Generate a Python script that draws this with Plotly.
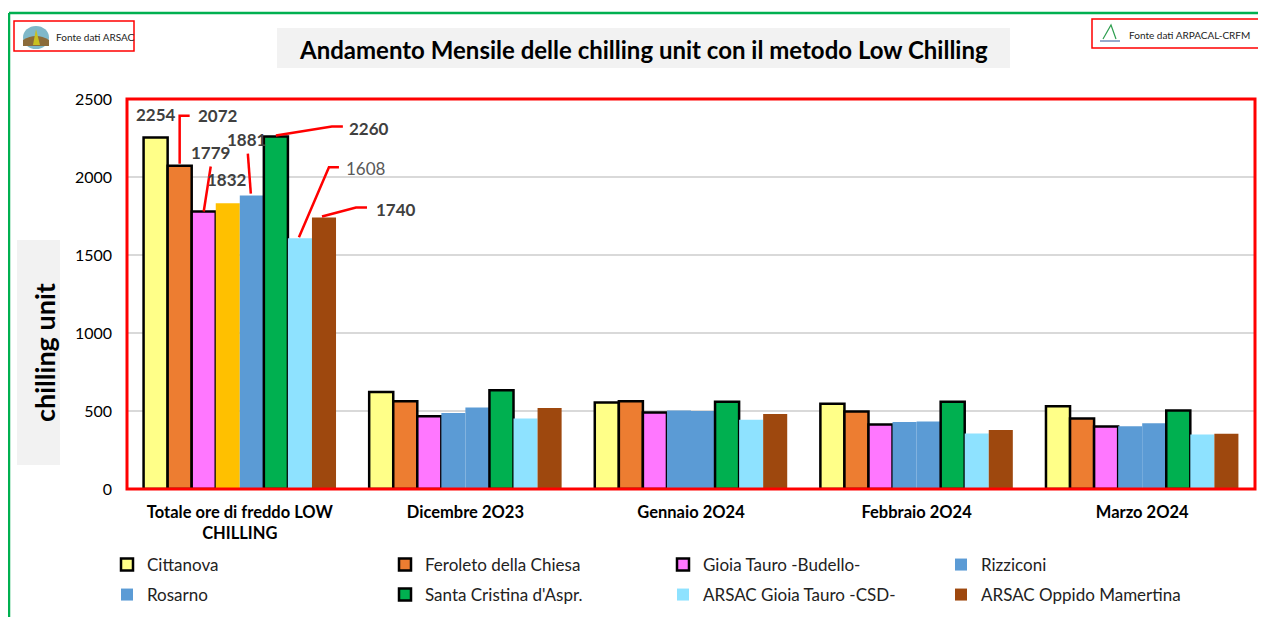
import plotly.graph_objects as go

# ---------------- data ----------------
categories = ["Totale ore di freddo LOW<br>CHILLING", "Dicembre 2O23", "Gennaio 2O24",
              "Febbraio 2O24", "Marzo 2O24"]
series_names = ["Cittanova", "Feroleto della Chiesa", "Gioia Tauro -Budello-", "Rizziconi",
                "Rosarno", "Santa Cristina d'Aspr.", "ARSAC Gioia Tauro -CSD-",
                "ARSAC Oppido Mamertina"]
cittanova = [2254, 622, 554, 547, 530]
feroleto = [2072, 562, 562, 496, 452]
gioia_budello = [1779, 467, 491, 414, 401]
rizziconi = [1832, 487, 504, 429, 403]
rosarno = [1881, 522, 500, 433, 422]
santa_cristina = [2260, 633, 560, 560, 504]
arsac_gioia = [1608, 452, 444, 356, 349]
arsac_oppido = [1740, 519, 480, 379, 354]
series_values = [cittanova, feroleto, gioia_budello, rizziconi, rosarno,
                 santa_cristina, arsac_gioia, arsac_oppido]
y_ticks = [0, 500, 1000, 1500, 2000, 2500]

# ---------------- style ----------------
colors = ["#FFFF88", "#ED7D31", "#FF77FF", "#5B9BD5", "#5B9BD5", "#00B050", "#8EE2FF", "#9E480E"]
outlined = [True, True, True, False, False, True, False, False]
FONT = "Lato"
OFF = 8                      # page body margin
W, H = 1266 - OFF, 617 - OFF
L, R, T, B = 127 - OFF, 11, 99 - OFF, 128
PW, PH = W - L - R, H - T - B
BARGAP = 0.147


def px_x(px):
    return (px - OFF - L) / PW


def px_y(py):
    return (H - B - (py - OFF)) / PH


fig = go.Figure()
for i, (name, vals) in enumerate(zip(series_names, series_values)):
    mc = [colors[i]] * len(vals)
    special = name == "Rizziconi"
    if special:
        mc[0] = "#FFC000"
    fig.add_trace(go.Bar(
        x=list(range(len(categories))), y=vals, name=name,
        marker=dict(color=mc, line=dict(color="black" if outlined[i] else colors[i],
                                         width=2.5 if outlined[i] else 0)),
        legend="legend" if i < 4 else "legend2",
        legendrank=i + 1,
        showlegend=not special,
    ))
    if special:
        # legend entry in the series' own colour (first bar is highlighted in gold)
        fig.add_trace(go.Scatter(
            x=[None], y=[None], mode="markers", name=name,
            marker=dict(symbol="square", size=12, color=colors[i]),
            legend="legend", legendrank=i + 1, showlegend=True,
        ))

# ---------------- data labels on first group ----------------
n = len(series_names)
gw = 1 - BARGAP
bw = gw / n


def bar_center(i, g=0):
    return g - gw / 2 + bw * (i + 0.5)


# (series index, text dx, text dy, leader path in px relative to bar top (up positive), bold, color)
label_specs = [
    (0, 0, 23, None, True, "#404040"),
    (1, 38, 50, [(0, 2), (0, 50), (10, 50)], True, "#404040"),
    (2, 7, 59, [(0, 0), (7, 45)], True, "#404040"),
    (3, -1, 24, None, True, "#404040"),
    (4, -5, 56, [(-1, 2), (-4, 42)], True, "#404040"),
    (5, 93, 8, [(0, 1), (56, 10), (67, 10)], True, "#404040"),
    (6, 66, 70, [(-1, 1), (29, 71), (39, 71)], False, "#595959"),
    (7, 72, 8, [(-2, 1), (32, 10), (43, 10)], True, "#404040"),
]
for si, dx, dy, path, bold, col in label_specs:
    val = series_values[si][0]
    xc = bar_center(si)
    txt = f"<b>{val}</b>" if bold else str(val)
    fig.add_annotation(x=xc, y=val, xref="x", yref="y", text=txt, showarrow=False,
                       xanchor="center", yanchor="middle",
                       xshift=dx, yshift=dy, font=dict(family=FONT, size=17, color=col))
    if path:
        d = "M" + " L".join(f"{p[0]},{p[1]}" for p in path)
        fig.add_shape(type="path", xref="x", yref="y", xsizemode="pixel", ysizemode="pixel",
                      xanchor=xc, yanchor=val, path=d, line=dict(color="#FF0000", width=2.5))

# ---------------- decorations ----------------
shapes = [
    # green outer frame
    dict(type="line", xref="paper", yref="paper", x0=px_x(9), x1=px_x(9), y0=px_y(13), y1=px_y(640),
         line=dict(color="#00B050", width=2.5)),
    dict(type="line", xref="paper", yref="paper", x0=px_x(9), x1=px_x(1290), y0=px_y(13), y1=px_y(13),
         line=dict(color="#00B050", width=2.5)),
    # title background
    dict(type="rect", xref="paper", yref="paper", x0=px_x(277), x1=px_x(1010), y0=px_y(28), y1=px_y(68),
         fillcolor="#F2F2F2", line=dict(width=0), layer="below"),
    # y-title background
    dict(type="rect", xref="paper", yref="paper", x0=px_x(17), x1=px_x(60), y0=px_y(240), y1=px_y(465),
         fillcolor="#F2F2F2", line=dict(width=0), layer="below"),
    # logo boxes
    dict(type="rect", xref="paper", yref="paper", x0=px_x(14), x1=px_x(134), y0=px_y(21), y1=px_y(51),
         line=dict(color="#FF0000", width=1.5)),
    dict(type="rect", xref="paper", yref="paper", x0=px_x(1092), x1=px_x(1262), y0=px_y(19), y1=px_y(48),
         line=dict(color="#FF0000", width=1.5)),
    # ARSAC logo approximation
    dict(type="circle", xref="paper", yref="paper", x0=px_x(23), x1=px_x(49), y0=px_y(26), y1=px_y(49),
         fillcolor="#7FB8C9", line=dict(width=0)),
    dict(type="path", xref="paper", yref="paper",
         path=f"M{px_x(23)},{px_y(40)} Q{px_x(36)},{px_y(32)} {px_x(49)},{px_y(40)} L{px_x(49)},{px_y(46)} L{px_x(23)},{px_y(46)} Z",
         fillcolor="#8B6B3A", line=dict(width=0)),
    dict(type="path", xref="paper", yref="paper",
         path=f"M{px_x(33)},{px_y(45)} L{px_x(36)},{px_y(29)} L{px_x(40)},{px_y(45)} Z",
         fillcolor="#C8C020", line=dict(width=0)),
    # ARPACAL logo approximation
    dict(type="path", xref="paper", yref="paper",
         path=f"M{px_x(1103)},{px_y(39)} L{px_x(1111)},{px_y(25)} L{px_x(1116)},{px_y(39)}",
         line=dict(color="#2E9E4F", width=1.2)),
    dict(type="line", xref="paper", yref="paper", x0=px_x(1100), x1=px_x(1120), y0=px_y(41), y1=px_y(41),
         line=dict(color="#2F5597", width=1)),
    # red plot-area border
    dict(type="rect", xref="paper", yref="paper", x0=0, x1=1, y0=0, y1=1,
         line=dict(color="#FF0000", width=3)),
]
for s in shapes:
    fig.add_shape(**s)

fig.add_annotation(xref="paper", yref="paper", x=px_x(643), y=px_y(49),
                   xanchor="center", yanchor="middle",
                   text="<b>Andamento Mensile delle chilling unit con il metodo Low Chilling</b>",
                   showarrow=False, font=dict(family=FONT, size=24, color="black"))
fig.add_annotation(xref="paper", yref="paper", x=px_x(44), y=px_y(353), text="<b>chilling unit</b>",
                   xanchor="center", yanchor="middle",
                   textangle=-90, showarrow=False, font=dict(family=FONT, size=27, color="black"))
fig.add_annotation(xref="paper", yref="paper", x=px_x(54), y=px_y(37), xanchor="left", yanchor="middle",
                   text="Fonte dati ARSAC", showarrow=False,
                   font=dict(family="Liberation Sans Narrow, " + FONT, size=10, color="#222"))
fig.add_annotation(xref="paper", yref="paper", x=px_x(1127), y=px_y(35), xanchor="left", yanchor="middle",
                   text="Fonte dati ARPACAL-CRFM", showarrow=False,
                   font=dict(family=FONT, size=10, color="#222"))

legend_common = dict(orientation="h", entrywidthmode="pixels", entrywidth=233,
                     font=dict(family=FONT, size=17, color="#222"), bgcolor="rgba(0,0,0,0)",
                     xanchor="left", yanchor="middle", itemclick=False, itemdoubleclick=False,
                     traceorder="normal")

fig.update_layout(
    width=W, height=H,
    margin=dict(l=L, r=R, t=T, b=B, autoexpand=False),
    paper_bgcolor="white", plot_bgcolor="white",
    barmode="group", bargap=BARGAP, bargroupgap=0,
    font=dict(family=FONT, color="black"),
    legend=dict(x=px_x(107), y=px_y(565), **legend_common),
    legend2=dict(x=px_x(107), y=px_y(595), **legend_common),
    xaxis=dict(tickmode="array", tickvals=list(range(len(categories))), ticktext=[f"<b>{c}</b>" for c in categories],
               range=[-0.5, len(categories) - 0.5], showgrid=False, showline=False, ticks="",
               tickfont=dict(family=FONT, size=16.5, color="black"), ticklabelstandoff=11, zeroline=False),
    yaxis=dict(range=[0, 2500], tickvals=y_ticks, showgrid=True, gridcolor="#D9D9D9", gridwidth=1.5,
               zeroline=False, showline=False, ticks="",
               tickfont=dict(family=FONT, size=16, color="black"), ticklabelstandoff=14),
)

fig.write_html("out.html")
